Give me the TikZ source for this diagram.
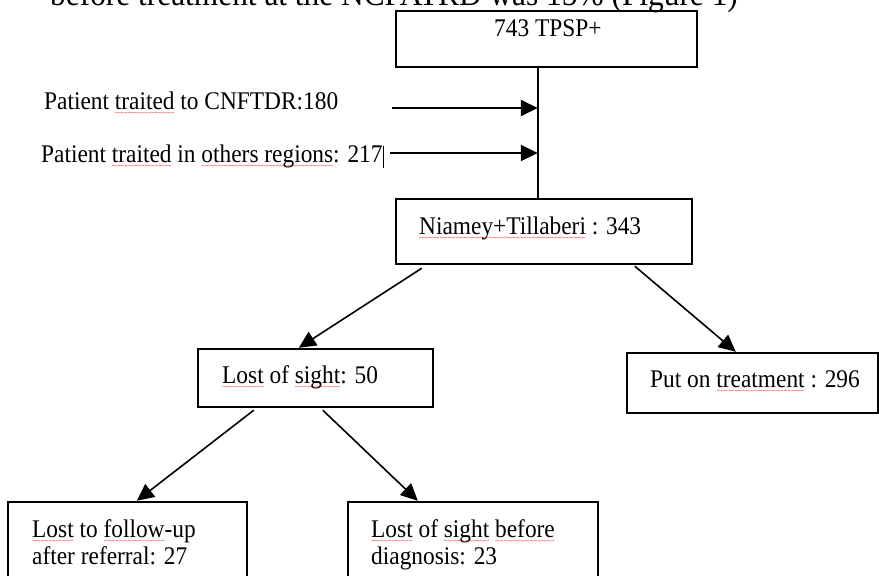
\documentclass[tikz,border=0pt]{standalone}
\usepackage{fontspec}
\setmainfont[FakeStretch=0.92]{Liberation Serif}
\newfontfamily\wavefont{Liberation Serif}
\usetikzlibrary{arrows.meta,calc}
\newsavebox\swbox
\newcommand\spellwave[1]{\sbox\swbox{#1}\rlap{\textcolor{red}{\lower6.5pt\hbox to \wd\swbox{\xleaders\hbox{\wavefont\fontsize{7.5}{7.5}\selectfont\char`\~}\hfil}}}\usebox\swbox}
\tikzset{
  box/.style={draw, line width=2.4pt, inner sep=0pt},
  txt/.style={inner sep=0pt, anchor=base west, font=\fontsize{25.4}{29}\selectfont},
  conn/.style={line width=1.6pt, -{Triangle[length=17pt,width=16pt]}},
  plain/.style={line width=1.6pt}
}
\begin{document}
\begin{tikzpicture}[x=1pt,y=-1pt]
\useasboundingbox (0,0) rectangle (879,576);
\fill[white] (0,0) rectangle (879,576);
\clip (0,0) rectangle (879,576);

% partially visible heading text
\node[inner sep=0pt, anchor=base west, font=\fontsize{34.1}{38}\selectfont] (head) at (50,5) {before treatment at the NCFATRD was 15\% (Figure 1)};

% boxes
\node[box, minimum width=301pt, minimum height=56pt] (top) at (546.5,39) {};
\node[box, minimum width=296pt, minimum height=65pt] (nt) at (544,231.5) {};
\node[box, minimum width=235pt, minimum height=58pt] (lost) at (315.5,378) {};
\node[box, minimum width=251pt, minimum height=60pt] (put) at (752.5,383) {};
\node[box, minimum width=239pt, minimum height=98pt] (lfu) at (127.5,551) {};
\node[box, minimum width=250pt, minimum height=98pt] (lsb) at (473,551) {};

% box texts
\node[txt] (ttop) at (494,36) {743 TPSP+};
\node[txt] (tnt) at (419,234) {\spellwave{Niamey+Tillaberi} : 343};
\node[txt] (tlost) at (222,383) {\spellwave{Lost} of \spellwave{sight}: 50};
\node[txt] (tput) at (650,387) {Put on \spellwave{treatment} : 296};
\node[txt] (tlfu1) at (32,537) {\spellwave{Lost} to \spellwave{follow}-up};
\node[txt] (tlfu2) at (32,564) {after referral: 27};
\node[txt] (tlsb1) at (371,537) {\spellwave{Lost} of \spellwave{sight} \spellwave{before}};
\node[txt] (tlsb2) at (371,564) {diagnosis: 23};

% side texts
\node[txt] (p1) at (44,109) {Patient \spellwave{traited} to CNFTDR:180};
\node[txt] (p2) at (41,162) {Patient \spellwave{traited} in \spellwave{others regions}: 217};
\coordinate (cur1) at (383,146);
\coordinate (cur2) at (383,168);
\draw[line width=0.9pt] (cur1) -- (cur2);

% vertical trunk
\coordinate (vt) at ($(top.south west)+(143,0)$);
\coordinate (vb) at ($(nt.north west)+(143,0)$);
\draw[plain] (vt) -- (vb);

% side arrows
\coordinate (s1) at (392,108);
\coordinate (j1) at ($(vt)!0.3060!(vb)$);
\coordinate (s2) at (390,153);
\coordinate (j2) at ($(vt)!0.6418!(vb)$);
\draw[conn] (s1) -- (s1 -| j1);
\draw[conn] (s2) -- (s2 -| j2);

% tree connectors
\draw[conn] ($(nt.south west)+(27,3)$) -- ($(lost.north west)+(102,0)$);
\draw[conn] ($(nt.south west)+(240,1)$) -- ($(put.north west)+(110,0)$);
\draw[conn] ($(lost.south west)+(57,2)$) -- ($(lfu.north west)+(130,0)$);
\draw[conn] ($(lost.south west)+(126,2)$) -- ($(lsb.north west)+(71,0)$);
\end{tikzpicture}
\end{document}
